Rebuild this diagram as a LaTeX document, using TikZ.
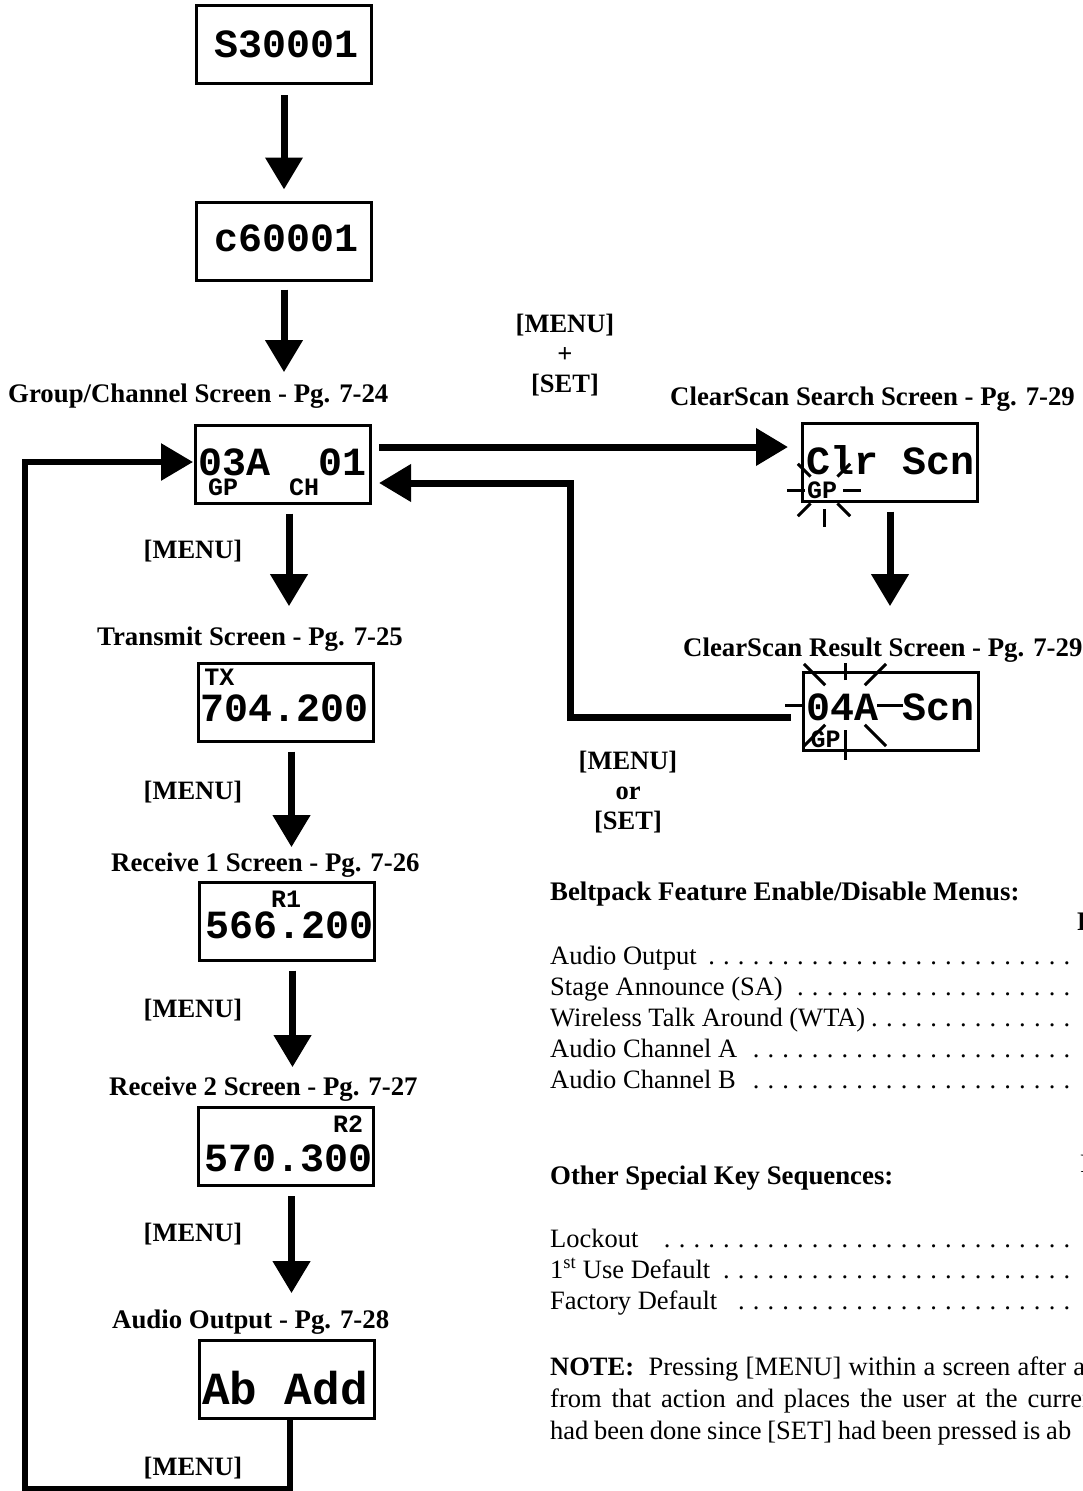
\documentclass[tikz,border=0pt]{standalone}
\usepackage{fontspec}
\setmainfont{Liberation Serif}
\setmonofont{Liberation Mono}
\usetikzlibrary{arrows.meta}
\newcommand{\dotlead}{\leaders\hbox to 14.8pt{\hss.\hss}\hfill}

\begin{document}
\begin{tikzpicture}[x=1pt,y=-1pt,
    screen/.style={draw,line width=3pt,minimum width=175pt,minimum height=78pt,inner sep=0pt},
    lcd/.style={font=\fontsize{40}{40}\selectfont\ttfamily\bfseries,inner sep=0pt},
    lcdtag/.style={font=\fontsize{25}{25}\selectfont\ttfamily\bfseries,inner sep=0pt},
    heading/.style={font=\fontsize{26.8}{29.5}\selectfont\bfseries,inner sep=0pt,anchor=base west},
    btn/.style={font=\fontsize{26.5}{30}\selectfont\bfseries,inner sep=0pt,align=center},
    rowtxt/.style={font=\fontsize{26.5}{30}\selectfont,inner sep=0pt,anchor=base west},
    flow/.style={line width=7pt,-{Triangle[length=32pt,width=36pt]}},
    ray/.style={line width=3pt}]
  \useasboundingbox (0,0) rectangle (1083,1491);
  \clip (0,0) rectangle (1083,1491);

  % left column screens
  \node[screen] (sn) at (284,44.5) {};
  \node[lcd] (snTxt) at (287,44) {S30001};
  \node[screen] (cn) at (284,241) {};
  \node[lcd] (cnTxt) at (286.5,238.5) {c60001};

  \node[heading] (gcHead) at (8,402) {Group/Channel Screen - Pg. 7-24};
  \node[screen] (gc) at (283,464) {};
  \node[lcd] (gcTxt) at (282.5,462) {03A\ \ 01};
  \node[lcdtag] (gcGp) at (223,487.5) {GP};
  \node[lcdtag] (gcCh) at (304,487.5) {CH};

  \node[heading] (txHead) at (97,645) {Transmit Screen - Pg. 7-25};
  \node[screen] (tx) at (285.5,702) {};
  \node[lcdtag] (txTag) at (219.5,677) {TX};
  \node[lcd] (txTxt) at (285,708) {704.200};

  \node[heading] (raHead) at (111,871) {Receive 1 Screen - Pg. 7-26};
  \node[screen] (ra) at (286.5,921) {};
  \node[lcdtag] (raTag) at (286,899) {R1};
  \node[lcd] (raTxt) at (289.5,925) {566.200};

  \node[heading] (rbHead) at (109,1095) {Receive 2 Screen - Pg. 7-27};
  \node[screen] (rb) at (285.5,1146.5) {};
  \node[lcdtag] (rbTag) at (348,1124.5) {R2};
  \node[lcd] (rbTxt) at (289,1158) {570.300};

  \node[heading] (aoHead) at (112,1328) {Audio Output - Pg. 7-28};
  \node[screen] (ao) at (286.5,1379) {};
  \node[lcd,font=\fontsize{46}{46}\selectfont\ttfamily\bfseries] (aoTxt) at (285,1388) {Ab Add};

  % clearscan screens
  \node[heading] (csHead) at (670,405) {ClearScan Search Screen - Pg. 7-29};
  \node[screen] (cs) at (890,462) {};
  \node[lcd] (csTxt) at (890.5,460.5) {Clr Scn};
  \node[lcdtag] (csGp) at (822,490) {GP};
  \begin{scope}[shift={(824,490)}]
    \foreach \a in {0,45,90,135,180,225,315}
      \draw[ray] (\a:19) -- (\a:37);
  \end{scope}

  \node[heading] (crHead) at (683,656) {ClearScan Result Screen - Pg. 7-29};
  \node[screen] (cr) at (890.5,711) {};
  \node[lcd] (crTxt) at (890.5,707.5) {04A Scn};
  \node[lcdtag] (crGp) at (825.5,739) {GP};
  \begin{scope}[shift={(845,705)}]
    \foreach \a/\ri/\ro in {0/32/58,45/28/58,90/25/55,135/28/58,180/42/60,225/28/58,270/25/42,315/28/58}
      \draw[ray] (\a:\ri) -- (\a:\ro);
  \end{scope}

  % key labels
  \node[btn] (keyMS) at (565,355) {[MENU]\\{+}\\{[SET]}};
  \node[btn] (keyMoS) at (628,792) {[MENU]\\{or}\\{[SET]}};
  \foreach \y [count=\i] in {558,799,1017,1241,1475}
    \node[btn,anchor=base] (menu\i) at (193,\y) {[MENU]};

  % arrows
  \draw[flow,shorten <=10pt,shorten >=11pt] (sn) -- (cn);
  \draw[flow,shorten <=8pt,shorten >=11pt] (cn) -- (cn |- gcHead.north);
  \draw[flow,shorten <=9pt,shorten >=20pt] ([xshift=6pt]gc.south) -- ([xshift=6pt]gc.south |- txHead.north);
  \draw[flow,shorten <=9pt,shorten >=5pt] ([xshift=6pt]tx.south) -- ([xshift=6pt]tx.south |- raHead.north);
  \draw[flow,shorten <=9pt,shorten >=9pt] ([xshift=6pt]ra.south) -- ([xshift=6pt]ra.south |- rbHead.north);
  \draw[flow,shorten <=9pt,shorten >=16pt] ([xshift=6pt]rb.south) -- ([xshift=6pt]rb.south |- aoHead.north);
  \draw[flow,shorten <=7pt,shorten >=13pt] ([yshift=17pt]gc.east) -- ([yshift=17pt]gc.east -| cs.west);
  \draw[flow,shorten <=9pt,shorten >=31pt] (cs) -- (cs |- crHead.north);
  \coordinate (retCorner) at (570,483);
  \draw[flow,shorten <=11pt,shorten >=7pt] ([yshift=-6pt]cr.west) -| (retCorner) -- ([yshift=-19pt]gc.east);
  \coordinate (loopCorner) at (25,1489);
  \draw[flow,line width=6pt,shorten >=1pt] ([xshift=3pt]ao.south) |- (loopCorner) |- ([yshift=2pt]gc.west);

  % menu tables
  \node[heading] (featHead) at (550,900) {Beltpack Feature Enable/Disable Menus:};
  \node[heading] (featPg) at (1077,930) {Page};
  \foreach \txt [count=\i] in {Audio Output,Stage Announce (SA),Wireless Talk Around (WTA),Audio Channel A,Audio Channel B}
    \node[rowtxt] (feat\i) at (541.3,{964+31.2*(\i-1)}) {\hbox to 533pt{\hskip8.7pt\txt\dotlead}};

  \node[heading] (seqHead) at (550,1184) {Other Special Key Sequences:};
  \node[rowtxt] (seqPg) at (1080,1172) {Page};
  \foreach \txt [count=\i] in {Lockout,1\textsuperscript{st} Use Default,Factory Default}
    \node[rowtxt] (seq\i) at (541.3,{1247+31*(\i-1)}) {\hbox to 533pt{\hskip8.7pt\txt\ \dotlead}};

  \node[rowtxt] (note1) at (550,1375) {\hbox to 535pt{\textbf{NOTE:}\ \ Pressing [MENU] within a screen after a}};
  \node[rowtxt] (note2) at (550,1407) {\hbox to 545pt{from that action and places the user at the curren}};
  \node[rowtxt] (note3) at (550,1439) {\hbox to 521pt{had been done since [SET] had been pressed is ab}};
\end{tikzpicture}
\end{document}
